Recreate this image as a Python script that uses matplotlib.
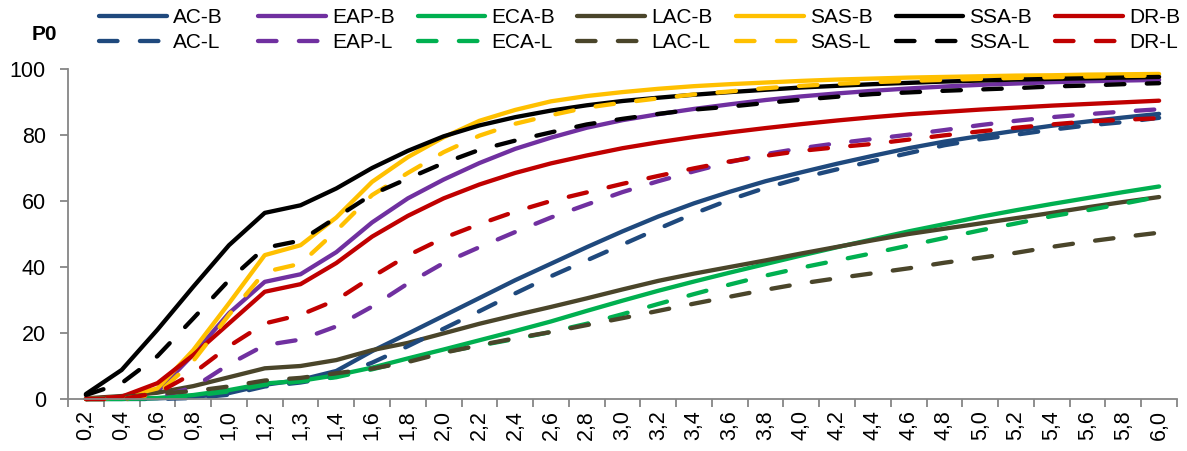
import numpy as np
import matplotlib
matplotlib.use("Agg")
import matplotlib.pyplot as plt

plt.rcParams['font.family'] = ['Liberation Sans', 'DejaVu Sans']

# z (poverty line) categories on the horizontal axis
z_labels = ["0,2", "0,4", "0,6", "0,8", "1,0", "1,2", "1,3", "1,4", "1,6", "1,8",
            "2,0", "2,2", "2,4", "2,6", "2,8", "3,0", "3,2", "3,4", "3,6", "3,8",
            "4,0", "4,2", "4,4", "4,6", "4,8", "5,0", "5,2", "5,4", "5,6", "5,8", "6,0"]

# headcount P0, base scenario (-B)
ac_b = [0, 0, 0.2, 0.6, 1.8, 4.3, 5.8, 8.5, 14.5, 19.8, 25.2, 30.6, 36.0, 41.0, 46.0, 50.8,
        55.3, 59.3, 62.8, 66.0, 68.7, 71.3, 73.7, 76.0, 78.0, 79.7, 81.3, 82.8, 84.1, 85.3, 86.4]
eap_b = [0, 0.3, 2.3, 13.5, 26.0, 35.5, 37.8, 44.5, 53.5, 60.8, 66.5, 71.5, 75.8, 79.2, 82.2, 84.5,
         86.3, 87.9, 89.3, 90.6, 91.7, 92.6, 93.4, 94.1, 94.7, 95.2, 95.6, 96.0, 96.3, 96.5, 96.7]
eca_b = [0, 0, 0.3, 1.2, 2.7, 4.7, 5.5, 7.2, 9.5, 12.3, 15.0, 17.8, 20.6, 23.5, 26.7, 29.8,
         32.8, 35.6, 38.3, 40.9, 43.5, 46.0, 48.4, 50.8, 53.0, 55.2, 57.2, 59.1, 60.9, 62.7, 64.4]
lac_b = [0.2, 0.9, 1.9, 3.9, 6.6, 9.3, 10.0, 11.8, 14.8, 17.0, 19.9, 22.8, 25.4, 27.9, 30.5, 33.2,
         35.8, 38.0, 40.0, 42.0, 44.1, 46.1, 48.1, 50.0, 51.6, 53.2, 54.8, 56.4, 58.1, 59.7, 61.2]
sas_b = [0, 0.5, 3.2, 14.8, 29.0, 43.6, 46.6, 55.0, 65.8, 73.3, 79.3, 84.3, 87.6, 90.2, 91.8, 93.0,
         94.0, 94.8, 95.4, 95.9, 96.4, 96.8, 97.1, 97.4, 97.6, 97.8, 98.0, 98.1, 98.3, 98.4, 98.5]
ssa_b = [1.5, 8.8, 21.0, 34.0, 46.6, 56.4, 58.7, 63.8, 70.0, 75.2, 79.6, 82.9, 85.4, 87.4, 89.0, 90.3,
         91.3, 92.2, 93.0, 93.7, 94.4, 94.9, 95.4, 95.8, 96.2, 96.5, 96.8, 97.0, 97.2, 97.4, 97.6]
dr_b = [0, 0.7, 4.8, 13.3, 22.9, 32.5, 34.8, 41.2, 49.2, 55.5, 60.8, 65.0, 68.5, 71.4, 73.8, 76.0,
        77.8, 79.4, 80.8, 82.1, 83.3, 84.4, 85.4, 86.3, 87.0, 87.7, 88.3, 88.9, 89.4, 89.9, 90.4]

# headcount P0, alternative scenario (-L)
ac_l = [0, 0, 0, 0.3, 1.3, 3.8, 5.0, 6.8, 11.0, 16.0, 21.3, 26.6, 32.0, 37.2, 42.0, 46.8,
        51.6, 56.2, 60.4, 64.0, 67.0, 69.6, 72.1, 74.5, 76.9, 78.7, 80.1, 81.6, 82.9, 83.9, 85.2]
eap_l = [0, 0, 0.5, 3.5, 10.5, 16.3, 18.0, 22.0, 28.0, 35.0, 41.2, 46.0, 50.6, 55.0, 58.9, 62.7,
         66.0, 69.0, 71.8, 74.2, 76.0, 77.5, 78.8, 80.1, 81.5, 83.0, 84.3, 85.4, 86.3, 87.1, 87.8]
eca_l = [0, 0, 0.2, 1.0, 2.3, 4.3, 5.3, 6.6, 9.0, 11.6, 14.2, 16.2, 18.2, 20.3, 22.8, 25.7,
         28.8, 31.8, 34.7, 37.4, 39.8, 42.0, 44.2, 46.5, 48.8, 51.1, 53.2, 55.4, 57.2, 59.2, 61.3]
lac_l = [0, 0.5, 1.6, 2.4, 3.8, 5.6, 6.4, 7.8, 9.2, 11.2, 14.0, 16.3, 18.4, 20.3, 22.4, 24.5,
         26.7, 28.9, 31.0, 33.1, 35.0, 36.6, 38.1, 39.6, 41.3, 42.8, 44.3, 46.1, 47.7, 49.1, 50.4]
sas_l = [0, 0, 1.5, 11.5, 25.5, 38.5, 41.0, 51.0, 61.8, 68.5, 74.8, 79.8, 83.4, 86.0, 88.3, 89.8,
         91.1, 92.3, 93.2, 94.2, 94.9, 95.5, 96.0, 96.4, 96.7, 97.0, 97.3, 97.5, 97.7, 97.9, 98.0]
ssa_l = [1.2, 4.8, 13.0, 24.4, 36.0, 45.8, 48.0, 55.0, 62.0, 66.8, 71.5, 75.5, 78.3, 80.8, 83.2, 84.9,
         86.4, 87.7, 88.6, 89.7, 90.7, 91.6, 92.4, 92.9, 93.4, 93.8, 94.2, 94.7, 95.0, 95.4, 95.7]
dr_l = [0, 0, 1.8, 7.8, 16.0, 22.9, 25.5, 30.0, 37.0, 43.5, 48.8, 53.0, 56.8, 60.0, 62.6, 65.2,
        67.6, 69.9, 72.0, 73.7, 75.2, 76.3, 77.3, 78.6, 79.9, 81.1, 82.2, 83.2, 84.1, 84.6, 85.1]

regions = ["AC", "EAP", "ECA", "LAC", "SAS", "SSA", "DR"]
series_b = [ac_b, eap_b, eca_b, lac_b, sas_b, ssa_b, dr_b]
series_l = [ac_l, eap_l, eca_l, lac_l, sas_l, ssa_l, dr_l]
colors = ["#1F497D", "#7030A0", "#00B050", "#4A452A", "#FFC000", "#000000", "#C00000"]

W, H = 1187, 451
fig = plt.figure(figsize=(W / 100, H / 100), dpi=100)
ax = fig.add_axes([68 / W, (H - 399) / H, 1109 / W, 330 / H])

x = np.arange(len(z_labels))
lw = 3.1
handles_b, handles_l = [], []
for name, vals, c in zip(regions, series_b, colors):
    h, = ax.plot(x, vals, color=c, lw=lw, solid_capstyle='round',
                 solid_joinstyle='round', clip_on=False, label=name + "-B")
    handles_b.append(h)
for name, vals, c in zip(regions, series_l, colors):
    h, = ax.plot(x, vals, color=c, lw=lw, dashes=(4.3, 5.2), dash_capstyle='round',
                 dash_joinstyle='round', clip_on=False, label=name + "-L")
    handles_l.append(h)

grey = "#868686"
ax.set_xlim(-0.5, len(z_labels) - 0.5)
ax.set_ylim(0, 100)
ax.set_yticks(range(0, 101, 20))
ax.set_xticks(x)
ax.set_xticklabels(z_labels, rotation=90)
ax.set_xticks(np.arange(-0.5, len(z_labels), 1), minor=True)
ax.tick_params(axis='x', which='major', length=0, pad=8, labelsize=15.5)
ax.tick_params(axis='x', which='minor', length=6, width=1.3, color=grey)
ax.tick_params(axis='y', length=6, width=1.3, color=grey, pad=10, labelsize=15.5)
for s in ["top", "right"]:
    ax.spines[s].set_visible(False)
for s in ["left", "bottom"]:
    ax.spines[s].set_color(grey)
    ax.spines[s].set_linewidth(1.3)

fig.text(44 / W, 1 - 34 / H, "P0", fontsize=15, fontweight='bold', ha='center', va='center')

# one two-row legend block per region, evenly spaced across the top
for i in range(len(regions)):
    x0 = (99 + i * 159.3) / W
    fig.legend(handles=[handles_b[i], handles_l[i]], loc='upper left',
               bbox_to_anchor=(x0, 1 - 8 / H), bbox_transform=fig.transFigure,
               frameon=False, fontsize=15, handlelength=3.25, handletextpad=0.3,
               labelspacing=0.28, borderpad=0, borderaxespad=0)

fig.savefig("out.png", dpi=100)
